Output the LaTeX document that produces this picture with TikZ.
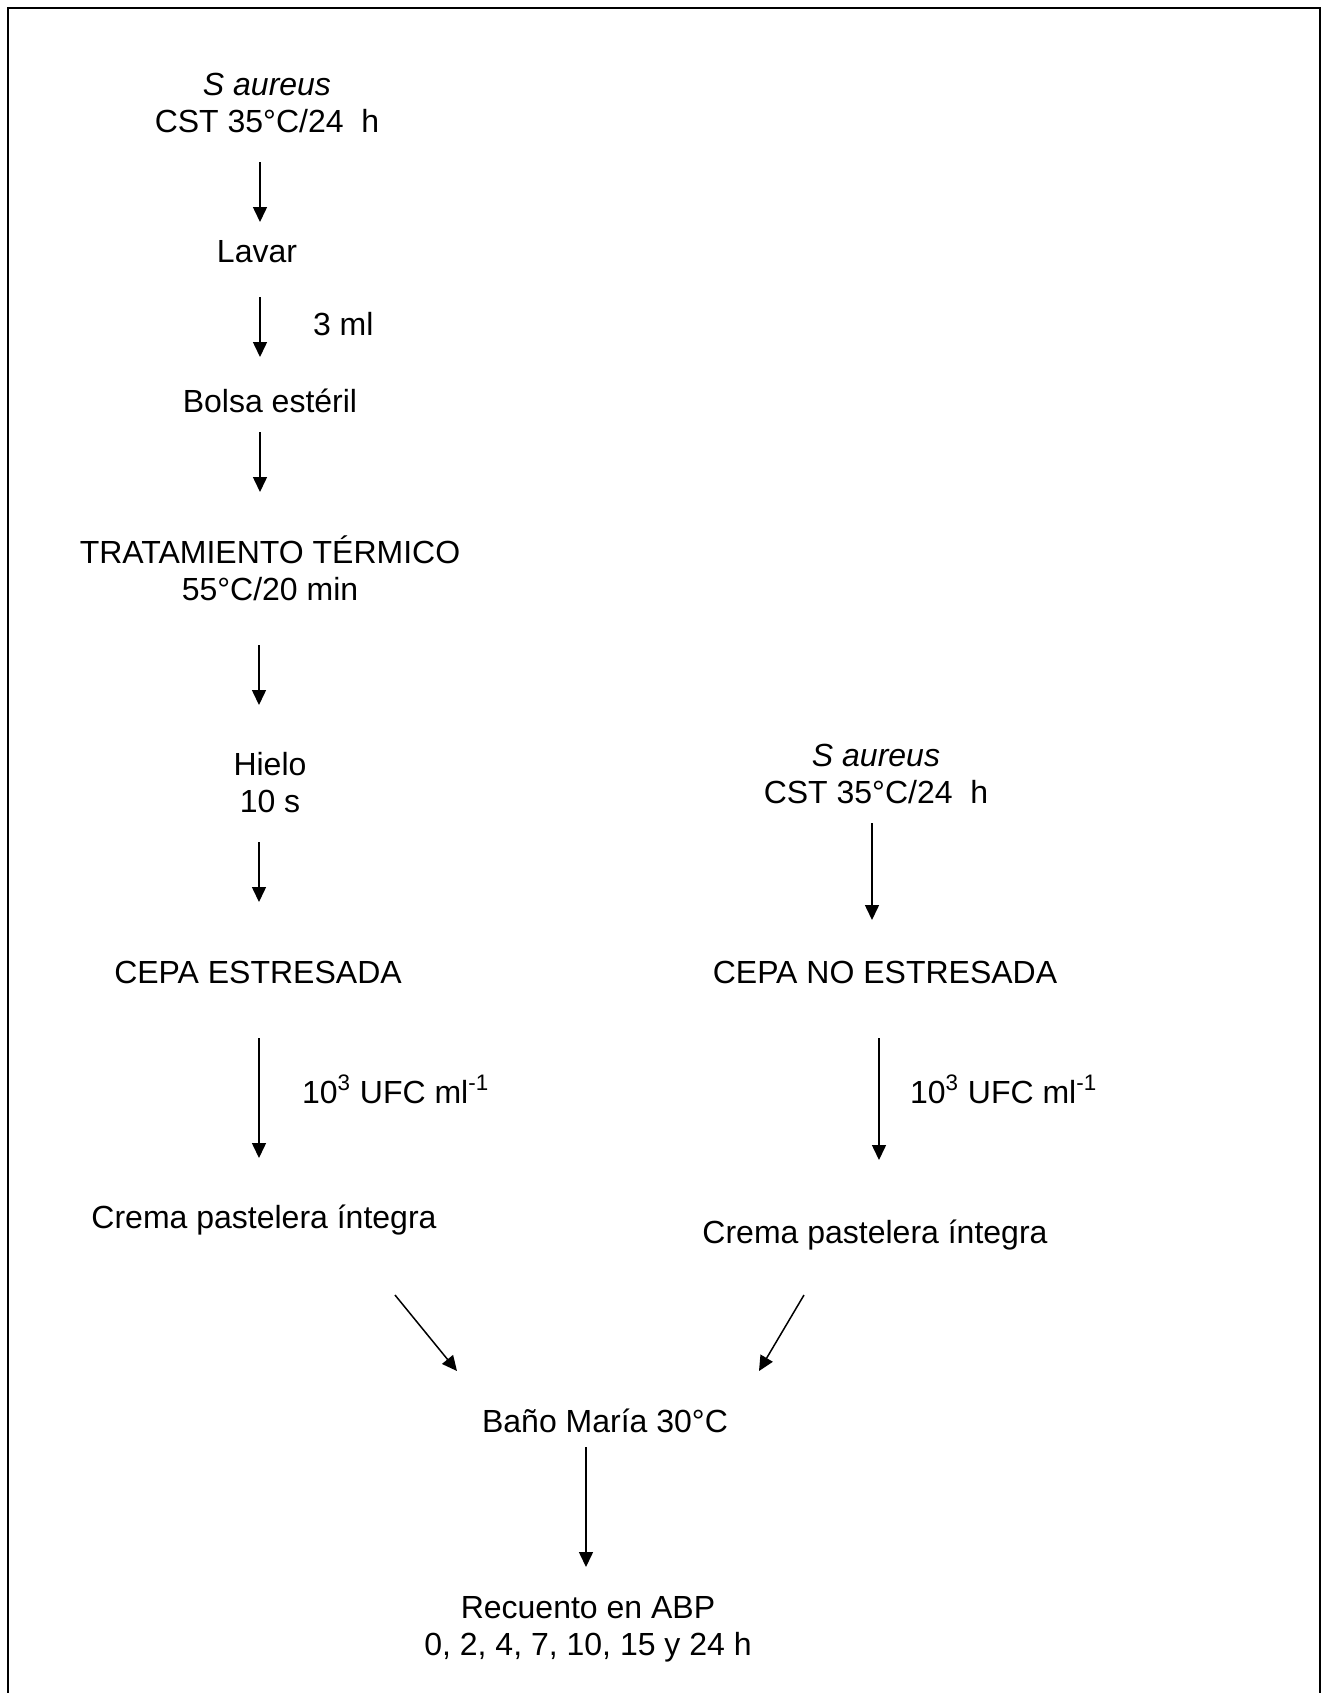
\documentclass[tikz,border=0pt]{standalone}
\usepackage{fontspec}
\setmainfont{Liberation Sans}
\usetikzlibrary{arrows.meta}
\begin{document}
\begin{tikzpicture}[x=0.5pt,y=-0.5pt,
  txt/.style={inner sep=0pt,outer sep=0pt,anchor=base,align=center,font=\fontsize{16pt}{18.5pt}\selectfont},
  lbl/.style={txt,anchor=base west},
  flow/.style={line width=0.75pt,-{Triangle[length=7.5pt,width=7pt]}},
  frame/.style={line width=1pt}]
\useasboundingbox (0,0) rectangle (1328,1693);
\draw[frame] (8,1700) -- (8,8) -- (1320,8) -- (1320,1700);

% left column (base anchor of a two-line node = last line's baseline)
\node[txt] (sa1) at (267,132) {\textit{S aureus}\\CST 35°C/24~~h};
\node[txt] (lavar) at (257,262) {Lavar};
\node[lbl] (ml3) at (313,335) {3 ml};
\node[txt] (bolsa) at (270,412) {Bolsa estéril};
\node[txt] (trat) at (270,600) {TRATAMIENTO TÉRMICO\\55°C/20 min};
\node[txt] (hielo) at (270,812) {Hielo\\10 s};
\node[txt] (cepaE) at (258,983) {CEPA ESTRESADA};
\node[lbl] (ufcL) at (302,1103) {10\textsuperscript{3} UFC ml\textsuperscript{-1}};
\node[txt] (cremaL) at (264,1228) {Crema pastelera íntegra};

% right column
\node[txt] (sa2) at (876,803) {\textit{S aureus}\\CST 35°C/24~~h};
\node[txt] (cepaN) at (885,983) {CEPA NO ESTRESADA};
\node[lbl] (ufcR) at (910,1103) {10\textsuperscript{3} UFC ml\textsuperscript{-1}};
\node[txt] (cremaR) at (875,1243) {Crema pastelera íntegra};

% bottom
\node[txt] (bano) at (605,1432) {Baño María 30°C};
\node[txt] (recuento) at (588,1655) {Recuento en ABP\\0, 2, 4, 7, 10, 15 y 24 h};

% arrow end points
\coordinate (a1s) at (260,162);  \coordinate (a1e) at (260,222);
\coordinate (a2s) at (260,297);  \coordinate (a2e) at (260,357);
\coordinate (a3s) at (260,432);  \coordinate (a3e) at (260,492);
\coordinate (a4s) at (259,645);  \coordinate (a4e) at (259,705);
\coordinate (a5s) at (259,842);  \coordinate (a5e) at (259,902);
\coordinate (a6s) at (259,1038); \coordinate (a6e) at (259,1158);
\coordinate (b1s) at (872,823);  \coordinate (b1e) at (872,920);
\coordinate (b2s) at (879,1038); \coordinate (b2e) at (879,1160);
\coordinate (c1s) at (395,1295); \coordinate (c1e) at (457,1371);
\coordinate (c2s) at (804,1295); \coordinate (c2e) at (759,1371);
\coordinate (d1s) at (586,1447); \coordinate (d1e) at (586,1567);

\draw[flow] (a1s) -- (a1e);
\draw[flow] (a2s) -- (a2e);
\draw[flow] (a3s) -- (a3e);
\draw[flow] (a4s) -- (a4e);
\draw[flow] (a5s) -- (a5e);
\draw[flow] (a6s) -- (a6e);
\draw[flow] (b1s) -- (b1e);
\draw[flow] (b2s) -- (b2e);
\draw[flow] (c1s) -- (c1e);
\draw[flow] (c2s) -- (c2e);
\draw[flow] (d1s) -- (d1e);
\end{tikzpicture}
\end{document}
